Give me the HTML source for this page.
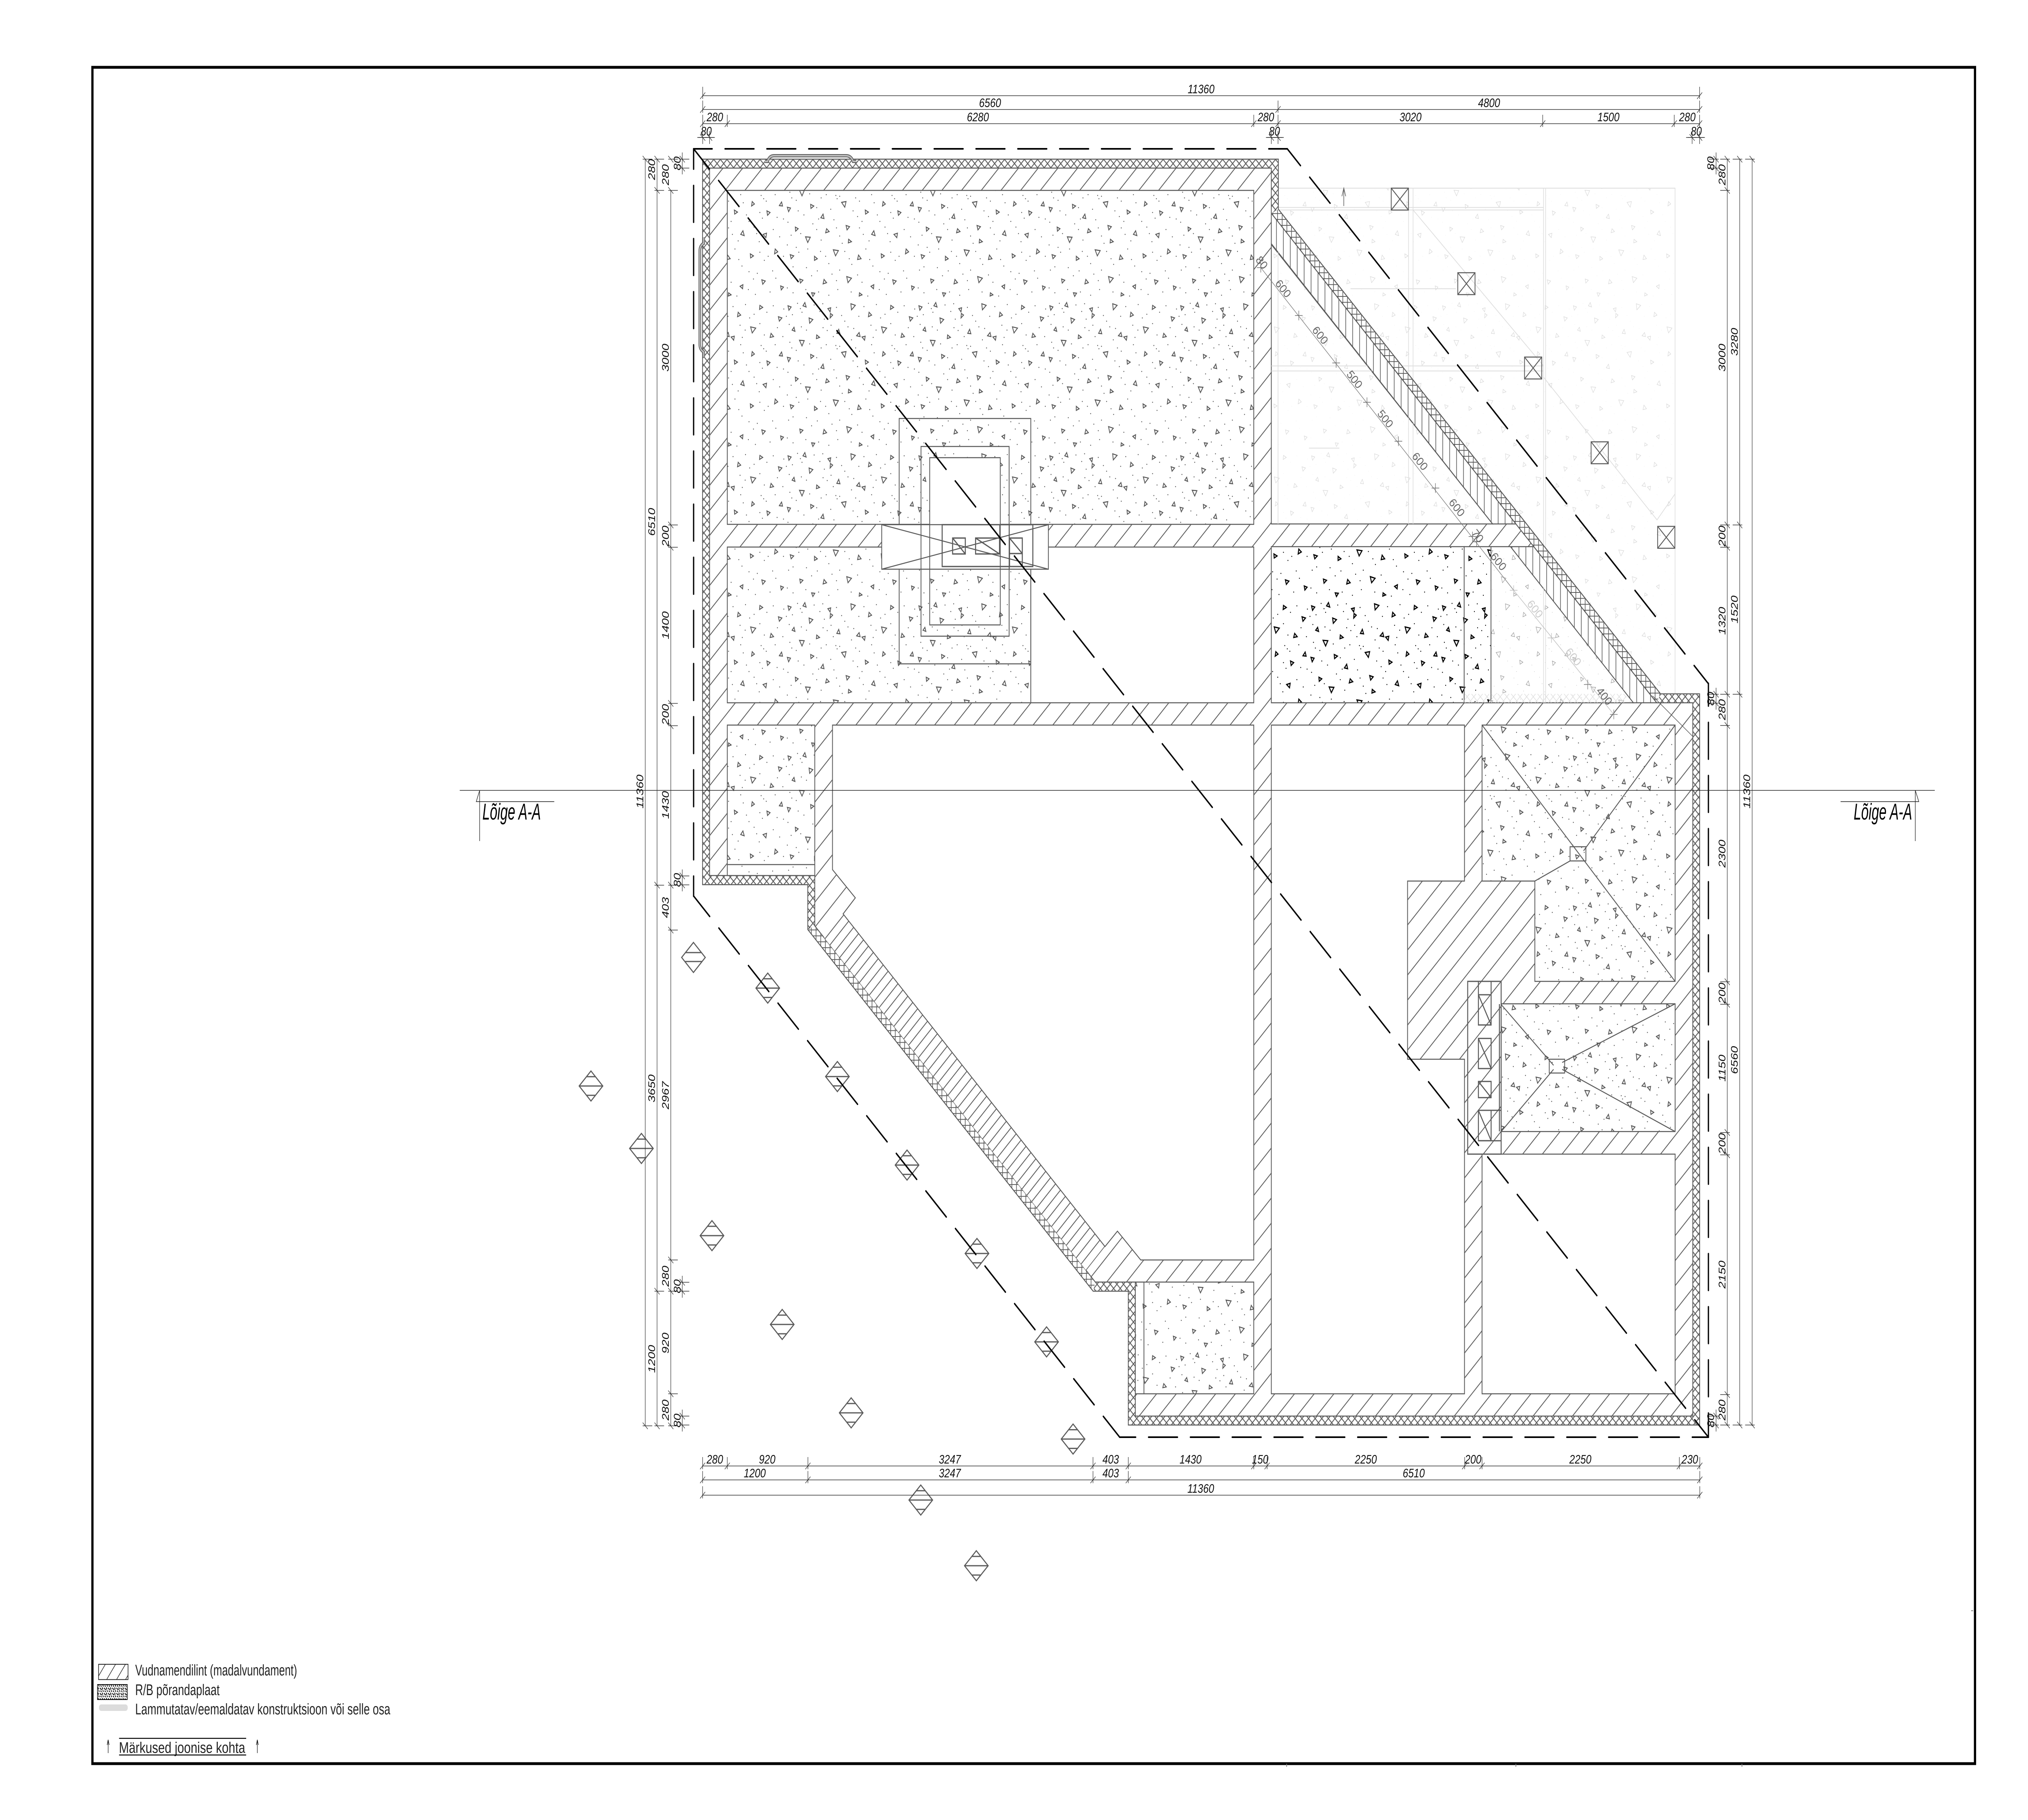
<!DOCTYPE html>
<html><head><meta charset="utf-8"><title>Plan</title>
<style>
html,body{margin:0;padding:0;background:#fff;width:6352px;height:4488px;overflow:hidden}
svg{display:block}
@media (min-width:3000px) and (max-width:6351px){html,body{width:100vw;height:100vh}svg{width:100vw;height:100vh}}
text{font-family:"Liberation Sans",sans-serif}
.d text{font-size:31px;font-style:italic;fill:#111;text-anchor:middle}
.l text{font-size:38px;fill:#222}
.w{stroke:#5a5a5a;stroke-width:2.5;fill:none}
.dl{stroke:#333;stroke-width:1.5;fill:none}
.f{stroke:#dedede;stroke-width:2;fill:none}
.o{stroke:#000;stroke-width:4;fill:none;stroke-linecap:round;stroke-dasharray:90.5 40.5}
</style></head><body>
<svg xmlns="http://www.w3.org/2000/svg" width="6352" height="4488" viewBox="0 0 6352 4488" preserveAspectRatio="none">
<defs>
<path id="tri" fill="none" d="M8 14l10 3-7 8zM61 6l4 11-10-3zM74 44l12 4-10 9zM133 21l9-2-2 10zM141 33l-1 11 8-7zM205 9l14 4-12 11zM262 30l-2 11 10-4zM330 13l9 5-10 5zM388 41l11 3-8 8zM27 67l3 10-9-3zM44 99l15 1-7 13zM98 86l9 6-10 3zM167 72l4 11-10-1zM231 80l-8 8 11 2zM240 91l10-2-2 10zM301 66l16 3-11 12zM362 92l3-10 8 8zM6 141l10 2-6 9zM79 134l10 4-9 6zM118 158l3 11-10-2zM176 129l14-2-4 14zM250 148l10 5-9 5zM306 127l-2 11 9-5zM352 150l10 4-8 7zM398 128l3 10-10-1zM31 190l9 4-8 6zM63 214l15 1-8 13zM126 204l3-10 8 7zM190 186l11 3-8 8zM198 220l9 6-10 3zM277 199l4 12-11-3zM340 208l11-3-2 11zM15 258l3 10 8-7zM91 262l9 6-9 4zM150 246l16 2-9 13zM226 270l3-11 8 9zM300 256l10 5-9 5zM378 244l-2 12 10-5zM45 318l10 3-8 7zM118 330l3-11 8 8zM192 312l15 4-11 11zM268 336l9-4-1 10zM336 320l11 3-8 8zM397 345l-2-10 9 3zM82 352l10 1-6 8zM232 352l8 5-9 3z"/>
<path id="dots" fill="none" stroke-linecap="round" d="M3 40h0M22 36h0M38 8h0M47 21h0M52 30h0M90 12h0M108 28h0M117 9h0M122 47h0M160 18h0M176 38h0M186 52h0M230 40h0M246 16h0M285 11h0M298 44h0M312 35h0M352 30h0M372 14h0M405 22h0M12 60h0M50 66h0M66 74h0M118 68h0M131 75h0M143 62h0M150 90h0M196 66h0M207 98h0M214 70h0M268 62h0M275 92h0M284 74h0M330 58h0M344 86h0M385 68h0M402 90h0M14 104h0M20 118h0M34 124h0M76 108h0M112 118h0M128 110h0M158 112h0M162 120h0M170 114h0M220 118h0M232 126h0M270 110h0M278 130h0M334 112h0M342 120h0M350 126h0M378 110h0M40 150h0M58 160h0M98 142h0M104 170h0M142 146h0M152 172h0M212 150h0M226 164h0M240 176h0M288 160h0M296 176h0M330 154h0M338 168h0M384 166h0M404 170h0M8 178h0M18 210h0M48 206h0M86 182h0M98 196h0M112 222h0M160 192h0M170 212h0M178 230h0M232 192h0M244 208h0M262 224h0M312 190h0M320 206h0M328 226h0M372 196h0M392 214h0M6 234h0M34 240h0M42 252h0M70 244h0M110 250h0M126 262h0M136 280h0M186 250h0M200 268h0M208 282h0M252 244h0M264 270h0M274 286h0M330 252h0M344 272h0M356 262h0M404 262h0M10 296h0M24 288h0M66 290h0M82 310h0M100 298h0M146 306h0M160 322h0M170 296h0M226 308h0M240 326h0M296 300h0M310 318h0M322 304h0M370 298h0M380 316h0M6 340h0M24 352h0M64 344h0M104 350h0M136 358h0M164 344h0M206 350h0M258 360h0M294 344h0M316 356h0M362 350h0"/>
<pattern id="s" width="410" height="370" patternUnits="userSpaceOnUse"><rect width="410" height="370" fill="#fff"/><use href="#tri" stroke="#555" stroke-width="2.4"/><use href="#dots" stroke="#555" stroke-width="2.8"/></pattern>
<pattern id="sD" width="410" height="370" patternUnits="userSpaceOnUse"><rect width="410" height="370" fill="#fff"/><use href="#tri" stroke="#000" stroke-width="3"/><use href="#dots" stroke="#000" stroke-width="2.8"/></pattern>
<pattern id="sL" width="410" height="370" patternUnits="userSpaceOnUse"><rect width="410" height="370" fill="#fff"/><use href="#tri" stroke="#999" stroke-width="1.3"/><use href="#dots" stroke="#aaa" stroke-width="1.6"/></pattern>
<pattern id="sF" width="410" height="370" patternUnits="userSpaceOnUse"><rect width="410" height="370" fill="#fff"/><use href="#tri" stroke="#d8d8d8" stroke-width="1.3"/><use href="#dots" stroke="#ececec" stroke-width="1.4"/></pattern>
<pattern id="h" x="26" y="0" width="61.7" height="61.7" patternUnits="userSpaceOnUse"><rect width="61.7" height="61.7" fill="#fff"/><path d="M0 61.7L61.7 0M-3 3L3-3M58.7 64.7L64.7 58.7" stroke="#5a5a5a" stroke-width="2.3"/></pattern>
<pattern id="h2" x="24.6" y="0" width="30.85" height="30.85" patternUnits="userSpaceOnUse"><rect width="30.85" height="30.85" fill="#fff"/><path d="M0 30.85L30.85 0M-3 3L3-3M27.85 33.85L33.85 27.85" stroke="#5a5a5a" stroke-width="2.3"/></pattern>
<pattern id="x" x="0" y="393" width="20.7" height="20.7" patternUnits="userSpaceOnUse"><rect width="20.7" height="20.7" fill="#fff"/><path d="M-2-2L22.7 22.7M-2 22.7L22.7-2" stroke="#5a5a5a" stroke-width="2.4"/></pattern>
<pattern id="xF" width="20.7" height="20.7" patternUnits="userSpaceOnUse"><path d="M-2-2L22.7 22.7M-2 22.7L22.7-2" stroke="#ddd" stroke-width="1.6"/></pattern>
<pattern id="g" width="14.6" height="14.6" patternUnits="userSpaceOnUse"><rect width="14.6" height="14.6" fill="#fff"/><path d="M0 0H14.6M0 0V14.6" stroke="#5a5a5a" stroke-width="4"/></pattern>
<pattern id="v" x="3997" width="21.7" height="40" patternUnits="userSpaceOnUse"><rect width="21.7" height="40" fill="#fff"/><path d="M0 0V40" stroke="#5a5a5a" stroke-width="4"/></pattern>
<pattern id="lg" width="13" height="13" patternUnits="userSpaceOnUse"><rect width="13" height="13" fill="#fff"/><path d="M1 2l3 4M8 1l2 5M3 9l3 3M10 8l2 4M5 5l2 2" stroke="#000" stroke-width="2.4"/></pattern>
<path id="tH" d="M0-22V8M-8 8L8-8"/>
<path id="tL" d="M-8 0H22M-8-8L8 8"/>
<path id="tR" d="M-22 0H8M-8-8L8 8"/>
<path id="tS" d="M-14 0H14M0-16V16M-8-8L8 8"/>
<path id="tX" d="M-12 0H12M0-12V12"/>
<g id="di" stroke="#5a5a5a" stroke-width="3" fill="none"><path d="M0-37L37 0 0 37-37 0ZM-37 0H37M-14-23H14M-14 23H14"/></g>
<g id="sq"><rect width="54" height="54" class="w"/><path d="M0 0L54 54M54 0L0 54" class="w"/></g>
</defs>

<rect width="6352" height="4488" fill="#fff"/>
<rect x="289.5" y="166" width="5896.5" height="4183" fill="none" stroke="#000" stroke-width="7"/>
<path d="M4030 4349v8M4748 4349v8M5456 4349v8M6174 3972h6" stroke="#777" stroke-width="2"/>

<!-- faint exterior NE -->
<rect x="4003" y="464" width="1243.5" height="1247" style="fill:url(#sF)"/>
<path class="f" d="M4003 464H5246.5V1711M4003 464V1711M4411.7 464V1711M4425.8 464V1711M4834.5 464V1711M4841 464V1711M4003 511.6H4834.5M4003 517.8H4834.5M4003 902.4H4834.5M4003 914.7H4834.5M4426 517.8L4834.5 902.4M4834.5 930L5190 1282L5246.5 1218M4230 712H4560M4250 1105H4560"/>
<path d="M4209 508V466M4203 484L4209 464L4215 484" fill="none" stroke="#666" stroke-width="2"/>

<!-- slab -->
<polygon points="2200.5,392.5 4004,392.5 4004,516 5201,1711 5323.5,1711 5323.5,3514 3534,3514 3534,3184 3424,3184 2530,2292 2530,2181.5 2200.5,2181.5" class="w" style="fill:url(#x)"/>
<polygon points="4004,516 5201,1711 5189,1733 3982,526" style="fill:url(#g)"/>
<polygon points="2530,2292 3424,3184 3430.7,3161.5 2552,2283" style="fill:url(#g)"/>
<polyline points="4004,516 5201,1711" class="w"/>
<polyline points="2530,2292 3424,3184" class="w"/>

<!-- foundation -->
<polygon points="2222.5,414.5 3982,414.5 3982,526 5189,1733 5302,1733 5302,3492 3556,3492 3556,3161.5 3430.7,3161.5 2552,2283 2552,2159 2222.5,2159" class="w" style="fill:url(#h)"/>
<polygon points="2640.7,2253.6 3461,3074 3402,3133 2581.7,2312.6" style="fill:url(#h2)"/>
<polygon points="3982,526 4748,1292 4675,1292 3982,601" class="w" style="fill:url(#v)"/>
<polygon points="4804,1348 5189,1733 5114,1733 4731,1348" class="w" style="fill:url(#v)"/>
<path class="w" d="M5176 1716L5302 1816" style="stroke-width:1.6"/>

<!-- rooms -->
<rect x="2278" y="469.5" width="1649" height="823.5" class="w" style="fill:url(#s)"/>
<polygon points="3982,603 4675,1292 3982,1292" class="w" style="fill:url(#sF)"/>
<path class="f" d="M4003 622V1292M4411.7 1030V1292M4425.8 1044V1292M3982 902.4H4283M3982 914.7H4296M4100 1105H4195"/>
<rect x="2278" y="1349" width="950.6" height="384" class="w" style="fill:url(#s)"/>
<rect x="3228.6" y="1349" width="698.4" height="384" class="w" style="fill:#fff"/>
<rect x="3982" y="1348" width="604" height="385" class="w" style="fill:url(#sD)"/>
<rect x="4586" y="1348" width="84" height="385" class="w" style="fill:url(#sD)"/>
<polygon points="4670,1348 4731,1348 5116,1733 4670,1733" class="w" style="fill:url(#sL)"/>
<rect x="4586" y="1711" width="508" height="22" style="fill:url(#xF)"/>
<path class="f" d="M4834.5 1451V1733M4841 1458V1733"/>
<rect x="2278" y="1788" width="274" height="371" class="w" style="fill:url(#s)"/>
<path class="w" d="M2278 2132H2552"/>
<polygon points="2607.5,1788 3927,1788 3927,3107 3573,3107 3500,3036 3461,3074 2640.7,2253.6 2679,2214 2607.5,2144.5" class="w" style="fill:#fff"/>
<polygon points="3982,1788 4587,1788 4587,2172.6 4408.7,2172.6 4408.7,2612 4587,2612 4587,3437 3982,3437" class="w" style="fill:#fff"/>
<polygon points="4642,1788 5246.7,1788 5246.7,2420 4807.4,2420 4807.4,2172.6 4642,2172.6" class="w" style="fill:url(#s)"/>
<path class="w" d="M4642 1788L5246.7 2420M5246.7 1788L4960 2098M4807.4 2172.6L4917.6 2123"/>
<rect x="4917.6" y="2088" width="49.7" height="35" class="w"/>
<rect x="4701.8" y="2475.3" width="544.9" height="315" class="w" style="fill:url(#s)"/>
<path class="w" d="M4701.8 2477L4866 2627M5246.7 2475.3L4893 2620M5246.7 2790.3L4893 2637M4701.8 2790.3L4866 2637"/>
<rect x="4852.5" y="2612" width="48.2" height="34" class="w"/>
<polygon points="4642,2846 5246.7,2846 5246.7,3437 4642,3437" class="w" style="fill:#fff"/>
<rect x="3556" y="3161.5" width="371" height="275.5" class="w" style="fill:url(#s)"/>
<path class="w" d="M3583 3161.5V3437"/>

<!-- shaft -->
<g class="w" style="stroke-width:3">
<rect x="4597" y="2420" width="104.8" height="426"/>
<path d="M4696.4 2476V2790M4670 2738H4701.8M4630.6 2813H4701.8"/>
<rect x="4630.6" y="2420" width="39.8" height="107.5"/>
<path d="M4630.6 2453H4670.4M4630.6 2453L4670.4 2527.5"/>
<rect x="4630.6" y="2560.7" width="39.8" height="74.3"/><path d="M4630.6 2560.7L4670.4 2635"/>
<rect x="4630.6" y="2666.8" width="39.8" height="39.9"/><path d="M4630.6 2666.8L4670.4 2706.7"/>
<rect x="4630.6" y="2738" width="39.8" height="74.8"/><path d="M4630.6 2738L4670.4 2812.8"/>
</g>

<!-- lift block -->
<rect x="2912" y="1128.6" width="221" height="165" fill="#fff"/>
<path class="w" d="M2816.3 1294V1032H3228.6V1294M2816.3 1403V1637H3228.6V1403"/>
<rect x="2761.7" y="1293.8" width="522" height="109.8" class="w" style="fill:#fff"/>
<rect x="2884.7" y="1101" width="276" height="467.8" class="w"/>
<rect x="2912" y="1128.6" width="221" height="412.4" class="w"/>
<path class="w" d="M2761.7 1293.8L3283.7 1403.6M2761.7 1403.6L3283.7 1293.8"/>
<g class="w" style="stroke-width:3.2">
<rect x="2951" y="1293.8" width="284" height="103.2"/>
<rect x="2983.7" y="1326.8" width="39.8" height="39.2"/><path d="M2983.7 1326.8L3023.5 1366"/>
<rect x="3055.6" y="1326.8" width="75" height="39.2"/><path d="M3055.6 1326.8L3130.6 1366"/>
<rect x="3162" y="1326.8" width="40" height="38.2"/><path d="M3162 1326.8L3202 1365"/>
<path d="M3131.6 1294V1366M3161 1294V1403M3162 1365V1397M3202 1365V1397"/>
</g>

<!-- demolish marks -->
<path d="M2396 398H2404Q2410 384 2424 384H2650Q2666 384 2672 398H2682" fill="none" stroke="#5a5a5a" stroke-width="8"/>
<path d="M2396 398H2404Q2410 384 2424 384H2650Q2666 384 2672 398H2682" fill="none" stroke="#bdbdbd" stroke-width="4"/>
<path d="M2204 585V600Q2192 606 2192 618V850Q2192 862 2204 868V880" fill="none" stroke="#5a5a5a" stroke-width="8"/>
<path d="M2204 585V600Q2192 606 2192 618V850Q2192 862 2204 868V880" fill="none" stroke="#bdbdbd" stroke-width="4"/>

<!-- X squares -->
<use href="#sq" x="4357.5" y="464"/><use href="#sq" x="4566" y="672.5"/><use href="#sq" x="4775" y="880.5"/><use href="#sq" x="4983.5" y="1089.5"/><use href="#sq" x="5192" y="1298"/>

<!-- diamonds -->
<g stroke="#5a5a5a" stroke-width="3" fill="none">
<path d="M2172 2324L2209 2361 2172 2398 2135 2361ZM2146 2349H2198M2146 2371H2198"/>
</g>
<use href="#di" x="2404.7" y="2436.6"/><use href="#di" x="2622.8" y="2654.7"/><use href="#di" x="2841" y="2873"/><use href="#di" x="3060" y="3091"/><use href="#di" x="3278" y="3309"/><use href="#di" x="3361" y="3548.6"/><use href="#di" x="2884" y="3699"/><use href="#di" x="3058" y="3861"/><use href="#di" x="1851" y="2678"/><use href="#di" x="2009" y="2832"/><use href="#di" x="2230" y="3047"/><use href="#di" x="2450" y="3266"/><use href="#di" x="2666" y="3484"/>

<!-- dashed outlines -->
<g class="o">
<path d="M2172.5 367H4032" stroke-dashoffset="32.5"/>
<path d="M2172.5 367V2210" stroke-dashoffset="40.5"/>
<path d="M2173 2210L3507 3544" stroke-dashoffset="20"/>
<path d="M3507 3544H5351" stroke-dashoffset="40.5"/>
<path d="M4032 367L5350 1685" stroke-dashoffset="32"/>
<path d="M5351 1685V3544" stroke-dashoffset="34.5"/>
<path d="M2172.5 367L5351 3544" stroke-dashoffset="20.5"/>
</g>

<!-- section lines -->
<g stroke="#222" stroke-width="1.6" fill="none">
<path d="M1440 1949H6060"/>
<path d="M1502.3 1949V2074M1502.3 1949L1491.7 1976.7H1736"/>
<path d="M5999 1949V2074M5999 1949L6010 1976.7H5765"/>
</g>
<text x="1511" y="2021" font-size="57" font-style="italic" textLength="183" lengthAdjust="spacingAndGlyphs" fill="#000">Lõige A-A</text>
<text x="5806" y="2021" font-size="57" font-style="italic" textLength="183" lengthAdjust="spacingAndGlyphs" fill="#000">Lõige A-A</text>

<!-- dimension lines -->
<g class="dl">
<path d="M2201 236H5323.5M2201 270H5323.5M2201 305H5323.5M2184 339H2239M3965 339H4021M5281 339H5340"/>
<path d="M2200.7 3615H5324M2200.7 3649.4H5324M2200.7 3687H5324"/>
<path d="M2021 392.5V3516M2058 392.5V3516M2101 469.5V3516M2137 376V430M2137 2144V2198M2137 3146V3200M2137 3476V3530"/>
<path d="M5410 392.5V3516M5449 392.5V3516M5488 392.5V3516M5375 376V430M5375 1696V1750M5375 3476V3530"/>
</g>
<g class="dl">
<use href="#tH" x="2201" y="236"/><use href="#tH" x="5323.5" y="236"/>
<use href="#tH" x="2201" y="270"/><use href="#tH" x="4003" y="270"/><use href="#tH" x="5323.5" y="270"/>
<use href="#tH" x="2201" y="305"/><use href="#tH" x="2278" y="305"/><use href="#tH" x="3927" y="305"/><use href="#tH" x="4003" y="305"/><use href="#tH" x="4832" y="305"/><use href="#tH" x="5244" y="305"/><use href="#tH" x="5323.5" y="305"/>
<use href="#tS" x="2201" y="339"/><use href="#tS" x="2222.5" y="339"/><use href="#tS" x="3982" y="339"/><use href="#tS" x="4003" y="339"/><use href="#tS" x="5300" y="339"/><use href="#tS" x="5323.5" y="339"/>
<use href="#tH" x="2200.7" y="3615"/><use href="#tH" x="2278" y="3615"/><use href="#tH" x="2530.5" y="3615"/><use href="#tH" x="3423.4" y="3615"/><use href="#tH" x="3534" y="3615"/><use href="#tH" x="3927" y="3615"/><use href="#tH" x="3968.8" y="3615"/><use href="#tH" x="4587.5" y="3615"/><use href="#tH" x="4642" y="3615"/><use href="#tH" x="5260" y="3615"/><use href="#tH" x="5324" y="3615"/>
<use href="#tH" x="2200.7" y="3649.4"/><use href="#tH" x="2530.5" y="3649.4"/><use href="#tH" x="3423.4" y="3649.4"/><use href="#tH" x="3534" y="3649.4"/><use href="#tH" x="5324" y="3649.4"/>
<use href="#tH" x="2200.7" y="3687"/><use href="#tH" x="5324" y="3687"/>
<use href="#tL" x="2021" y="392.5"/><use href="#tL" x="2021" y="3516"/>
<use href="#tL" x="2058" y="392.5"/><use href="#tL" x="2058" y="469.5"/><use href="#tL" x="2058" y="2182.7"/><use href="#tL" x="2058" y="3184"/><use href="#tL" x="2058" y="3516"/>
<use href="#tL" x="2101" y="392.5"/><use href="#tL" x="2101" y="469.5"/><use href="#tL" x="2101" y="1294.5"/><use href="#tL" x="2101" y="1349.5"/><use href="#tL" x="2101" y="1734.5"/><use href="#tL" x="2101" y="1789.5"/><use href="#tL" x="2101" y="2182.7"/><use href="#tL" x="2101" y="2293.5"/><use href="#tL" x="2101" y="3107"/><use href="#tL" x="2101" y="3184"/><use href="#tL" x="2101" y="3437"/><use href="#tL" x="2101" y="3516"/>
<use href="#tL" x="2137" y="392.5"/><use href="#tL" x="2137" y="414.5"/><use href="#tL" x="2137" y="2160"/><use href="#tL" x="2137" y="2182"/><use href="#tL" x="2137" y="3162"/><use href="#tL" x="2137" y="3184"/><use href="#tL" x="2137" y="3492"/><use href="#tL" x="2137" y="3514"/>
<use href="#tR" x="5410" y="392.5"/><use href="#tR" x="5410" y="469.5"/><use href="#tR" x="5410" y="1294.5"/><use href="#tR" x="5410" y="1349.5"/><use href="#tR" x="5410" y="1712"/><use href="#tR" x="5410" y="1789"/><use href="#tR" x="5410" y="2421"/><use href="#tR" x="5410" y="2476.5"/><use href="#tR" x="5410" y="2792.7"/><use href="#tR" x="5410" y="2847.7"/><use href="#tR" x="5410" y="3439"/><use href="#tR" x="5410" y="3514"/>
<use href="#tR" x="5449" y="392.5"/><use href="#tR" x="5449" y="1294.5"/><use href="#tR" x="5449" y="1712"/><use href="#tR" x="5449" y="3514"/>
<use href="#tR" x="5488" y="392.5"/><use href="#tR" x="5488" y="3514"/>
<use href="#tR" x="5375" y="392.5"/><use href="#tR" x="5375" y="414.5"/><use href="#tR" x="5375" y="1712"/><use href="#tR" x="5375" y="1734"/><use href="#tR" x="5375" y="3492"/><use href="#tR" x="5375" y="3514"/>
</g>

<!-- diagonal dims -->
<path d="M3949 660L4741 1455.5" stroke="#777" stroke-width="1.5" fill="none"/>
<path d="M4741 1455.5L5054.6 1761.6" stroke="#bbb" stroke-width="1.5" fill="none"/>
<g stroke="#666" stroke-width="1.5" fill="none"><use href="#tX" x="3949" y="660"/><use href="#tX" x="4068" y="778"/><use href="#tX" x="4185" y="895"/><use href="#tX" x="4281.6" y="992"/><use href="#tX" x="4380" y="1088"/><use href="#tX" x="4496" y="1203.5"/><use href="#tX" x="4612" y="1323"/><use href="#tX" x="4625" y="1336"/></g>
<g stroke="#bbb" stroke-width="1.5" fill="none"><use href="#tX" x="4741" y="1455.5"/><use href="#tX" x="4859.5" y="1573"/></g>
<g stroke="#777" stroke-width="1.5" fill="none"><use href="#tX" x="4973" y="1688"/><use href="#tX" x="5054.6" y="1761.6"/></g>
<g font-size="31" font-style="italic" text-anchor="middle" fill="#666">
<text transform="translate(3952 647)rotate(45)" y="11">80</text>
<text transform="translate(4019 711)rotate(45)" y="11">600</text>
<text transform="translate(4135 826)rotate(45)" y="11">600</text>
<text transform="translate(4242.6 935)rotate(45)" y="11">500</text>
<text transform="translate(4339 1032)rotate(45)" y="11">500</text>
<text transform="translate(4447.5 1137)rotate(45)" y="11">600</text>
<text transform="translate(4563 1251)rotate(45)" y="11">600</text>
<text transform="translate(4628 1321)rotate(45)" y="11">70</text>
<text transform="translate(4693.6 1384)rotate(45)" y="11">600</text>
<text transform="translate(4808 1501)rotate(45)" y="11" fill="#ccc">600</text>
<text transform="translate(4928 1619)rotate(45)" y="11" fill="#ccc">600</text>
<text transform="translate(5025 1716)rotate(45)" y="11">400</text>
</g>

<!-- dim text -->
<g class="d">
<text x="3762" y="230">11360</text>
<text x="3101" y="264">6560</text><text x="4664" y="264">4800</text>
<text x="2239" y="299">280</text><text x="3063" y="299">6280</text><text x="3965" y="299">280</text><text x="4418" y="299">3020</text><text x="5038" y="299">1500</text><text x="5285" y="299">280</text>
<text x="2212" y="334">80</text><text x="3992" y="334">80</text><text x="5313" y="334">80</text>
<text x="2239" y="3609">280</text><text x="2403" y="3609">920</text><text x="2975" y="3609">3247</text><text x="3479" y="3609">403</text><text x="3729" y="3609">1430</text><text x="3947" y="3609">150</text><text x="4278" y="3609">2250</text><text x="4614" y="3609">200</text><text x="4950" y="3609">2250</text><text x="5293" y="3609">230</text>
<text x="2364" y="3643">1200</text><text x="2975" y="3643">3247</text><text x="3479" y="3643">403</text><text x="4428" y="3643">6510</text>
<text x="3761" y="3681">11360</text>
<text transform="translate(2015 1952)rotate(-90)">11360</text>
<text transform="translate(2052 418)rotate(-90)">280</text>
<text transform="translate(2052 1287)rotate(-90)">6510</text>
<text transform="translate(2052 2684)rotate(-90)">3650</text>
<text transform="translate(2052 3351)rotate(-90)">1200</text>
<text transform="translate(2095 431)rotate(-90)">280</text>
<text transform="translate(2095 882)rotate(-90)">3000</text>
<text transform="translate(2095 1322)rotate(-90)">200</text>
<text transform="translate(2095 1542)rotate(-90)">1400</text>
<text transform="translate(2095 1762)rotate(-90)">200</text>
<text transform="translate(2095 1985)rotate(-90)">1430</text>
<text transform="translate(2095 2238)rotate(-90)">403</text>
<text transform="translate(2095 2701)rotate(-90)">2967</text>
<text transform="translate(2095 3147)rotate(-90)">280</text>
<text transform="translate(2095 3312)rotate(-90)">920</text>
<text transform="translate(2095 3477)rotate(-90)">280</text>
<text transform="translate(2132 403)rotate(-90)">80</text>
<text transform="translate(2132 2170)rotate(-90)">80</text>
<text transform="translate(2132 3172)rotate(-90)">80</text>
<text transform="translate(2132 3503)rotate(-90)">80</text>
<text transform="translate(5369 403)rotate(-90)">80</text>
<text transform="translate(5369 1723)rotate(-90)">80</text>
<text transform="translate(5369 3503)rotate(-90)">80</text>
<text transform="translate(5404 431)rotate(-90)">280</text>
<text transform="translate(5404 882)rotate(-90)">3000</text>
<text transform="translate(5404 1322)rotate(-90)">200</text>
<text transform="translate(5404 1531)rotate(-90)">1320</text>
<text transform="translate(5404 1750)rotate(-90)">280</text>
<text transform="translate(5404 2105)rotate(-90)">2300</text>
<text transform="translate(5404 2449)rotate(-90)">200</text>
<text transform="translate(5404 2634)rotate(-90)">1150</text>
<text transform="translate(5404 2820)rotate(-90)">200</text>
<text transform="translate(5404 3143)rotate(-90)">2150</text>
<text transform="translate(5404 3477)rotate(-90)">280</text>
<text transform="translate(5443 843)rotate(-90)">3280</text>
<text transform="translate(5443 1503)rotate(-90)">1520</text>
<text transform="translate(5443 2614)rotate(-90)">6560</text>
<text transform="translate(5482 1952)rotate(-90)">11360</text>
</g>

<!-- legend -->
<path d="M308.7 4133L330 4104M334 4141.7L362 4104M365 4141.7L393 4104M393 4141.7L401 4131" stroke="#111" stroke-width="1.5" fill="none"/>
<rect x="308.7" y="4104" width="92.3" height="37.7" fill="none" stroke="#222" stroke-width="2"/>
<rect x="305.5" y="4154" width="93" height="37" style="fill:url(#lg)" stroke="#000" stroke-width="2"/>
<rect x="310" y="4203" width="90" height="16" rx="7" fill="#dcdcdc"/>
<g class="l">
<text x="423.5" y="4131.7" textLength="507" lengthAdjust="spacingAndGlyphs">Vudnamendilint (madalvundament)</text>
<text x="423.5" y="4180" textLength="264.5" lengthAdjust="spacingAndGlyphs">R/B põrandaplaat</text>
<text x="423.5" y="4227.7" textLength="799" lengthAdjust="spacingAndGlyphs">Lammutatav/eemaldatav konstruktsioon või selle osa</text>
<text x="372.5" y="4322.7" textLength="395.5" lengthAdjust="spacingAndGlyphs">Märkused joonise kohta</text>
</g>
<path d="M373 4286.7H771M373 4327.7H771" stroke="#000" stroke-width="2.4"/>
<path d="M338.7 4323V4291M335.5 4303L338.7 4290 342 4303M806 4323V4291M802.8 4303L806 4290 809.2 4303" stroke="#111" stroke-width="1.5" fill="none"/>
</svg>
</body></html>
